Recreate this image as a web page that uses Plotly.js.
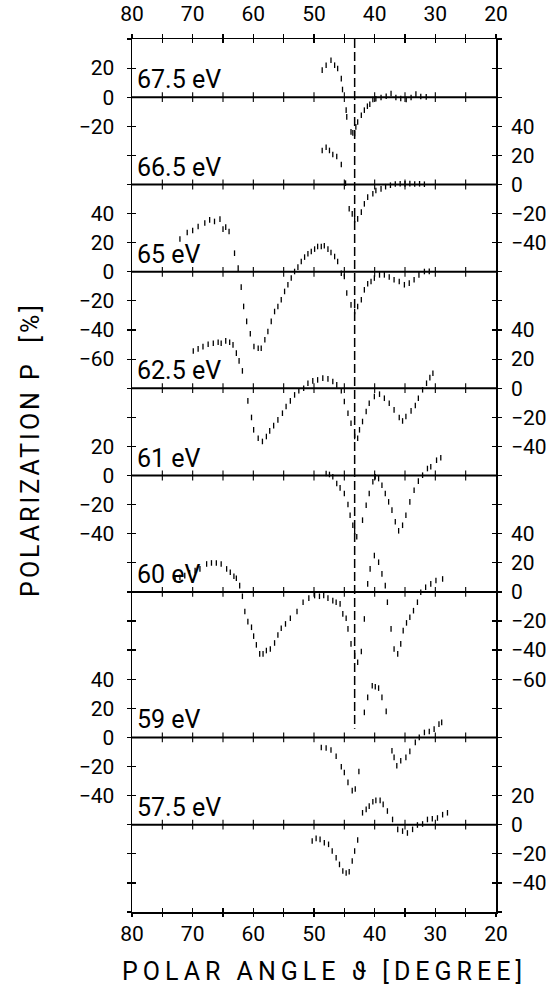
<!DOCTYPE html>
<html><head><meta charset="utf-8">
<script src="https://cdn.plot.ly/plotly-3.0.1.min.js"></script>
<style>
html,body{margin:0;padding:0;background:#fff}
#chart{width:559px;height:987px}
</style></head><body><div id="chart"></div>
<script>
// ---- panels (stacked, each with its own zero line) ----
const panelNames   = ['67.5 eV','66.5 eV','65 eV','62.5 eV','61 eV','60 eV','59 eV','57.5 eV'];
const panelOffsets = [560, 500, 440, 360, 300, 220, 120, 60];
const panelLeftLabels  = [[20,0,-20],[],[40,20,0,-20,-40,-60],[],[20,0,-20,-40],[],[40,20,0,-20,-40],[]];
const panelRightLabels = [[],[40,20,0,-20,-40],[],[40,20,0,-20,-40],[],[40,20,0,-20,-40,-60],[],[20,0,-20,-40]];

// ---- x axis ----
const xRange = [80, 20];
const xTickVals = [80,75,70,65,60,55,50,45,40,35,30,25,20];
const xTickText = ['80','','70','','60','','50','','40','','30','','20'];
const yTop = 600;
const referenceAngle = 43.3;
const xTitle = 'POLAR ANGLE \u03D1 [DEGREE]';
const yTitle = 'POLARIZATION P  [%]';

// ---- data: polar angle (deg) and polarization P (%) ----
const x675 = [48.65,48.0,47.2,46.6,46.1,45.5,45.3,44.7,44.6,43.9,43.6,43.3,43.1,42.8,42.2,41.7,41.2,40.8,40.3,39.8,38.95,38.1,37.3,36.5,35.7,34.8,34.0,33.2,32.4,31.5];
const p675 = [18.6,22,25.4,22,19.7,12.8,5.3,-8.9,-13.5,-23.8,-24.5,-25,-20.4,-17,-12.4,-8.9,-6.2,-4.8,-1.6,-1.1,-0.2,0.7,2.5,-0.2,-0.9,-1.6,-0.2,2.1,0.5,0.2];

const x665 = [48.65,48.0,47.45,46.9,46.25,45.5,44.8,44.2,43.7,43.3,42.8,42.2,41.7,41.15,40.3,39.8,38.95,38.2,37.4,36.6,35.8,35.0,34.2,33.4,32.6,31.8];
const p665 = [23.4,25.6,23.4,20.6,19.2,13.7,0.9,-16.7,-20.2,-24.3,-23.6,-19,-13.3,-8.7,-6.4,-4.1,-3.0,-1.5,-0.5,0.3,0.5,0.4,0.6,0.3,0.5,0.2];

const x65 = [72.1,70.9,70.0,69.1,68.0,67.2,66.4,65.5,65.0,64.55,64.0,63.1,62.5,62.0,61.6,61.1,60.5,59.9,59.2,58.7,58.1,57.6,57.05,56.5,55.95,55.4,54.85,54.3,53.75,53.2,52.65,52.1,51.55,51.0,50.45,49.9,49.4,48.8,48.3,47.7,47.2,46.6,46.1,45.5,45.0,44.6,43.9,43.3,42.8,42.2,41.7,41.15,40.6,40.05,39.2,38.4,37.6,36.8,35.95,35.1,34.3,33.5,32.7,31.8,31.0];
const p65 = [22.5,27,28.4,31.1,33.5,35.7,34.6,36.2,29.3,30.7,27.7,12.8,2.5,-10.5,-23.8,-34.1,-42.6,-51.3,-52.5,-52.5,-46.7,-41,-34.1,-27.3,-23.8,-19.2,-13.5,-8.9,-4.3,0.2,3.2,7.1,10.1,12.4,14,15.6,17.4,17.4,17.9,15.6,13.3,10.5,7.1,-1,-3.2,-14.6,-22.7,-27.3,-23.8,-19.2,-12.4,-8.2,-6.7,-4.3,-2.1,-2.1,-3.6,-5.5,-6.7,-8.9,-7.8,-5.5,-2.1,0.2,0.3];

const x625 = [69.9,69.1,68.3,67.45,66.6,65.8,65.3,64.55,63.9,63.35,62.8,62.35,61.8,60.9,60.3,59.95,59.2,58.5,57.85,57.3,56.65,55.95,55.2,54.6,53.9,53.2,52.5,51.7,51.0,50.2,49.4,48.55,47.7,46.9,46.25,45.5,45.0,44.4,43.9,43.3,42.8,42.5,42.0,41.4,40.9,40.05,39.2,38.4,37.6,36.8,35.95,35.4,34.85,34.0,33.3,32.8,32.1,31.45,30.9,30.4];
const p625 = [25.6,27,28.6,30.2,30.9,31.6,30.9,32.5,31.6,29.8,24.1,18.8,11.9,-8.7,-20.1,-28.6,-34.4,-36.6,-33.2,-29.3,-25.7,-21.8,-17.2,-12.6,-8.7,-4.6,-1.8,0,3.4,5.0,5.7,6.9,6.4,4.6,2.3,-1.8,-9.1,-17.2,-24.1,-33.2,-34.4,-28.6,-22.9,-16,-10.3,-5.7,-4.1,-6.9,-10.3,-14.9,-20.1,-22.5,-19.5,-15.6,-11.9,-6.9,-1.1,3.4,7.3,10.3];

const x61 = [48.0,47.45,46.9,46.25,45.7,45.0,44.4,44.05,43.6,43.3,42.95,42.0,41.4,40.9,40.3,39.9,39.35,38.8,38.25,37.7,37.15,36.6,36.05,35.4,34.85,34.2,33.5,32.8,32.1,31.3,30.75,29.8,29.1];
const p61 = [1.4,0.7,-0.9,-5.5,-8.5,-12.4,-19.9,-27.3,-34.2,-38.7,-42.1,-30.7,-20.4,-12.4,-4.3,-0.9,-2.1,-6.7,-12.4,-18.1,-23.8,-31.8,-38,-34.2,-27.3,-18.1,-10.1,-3.9,0.2,4.8,6.0,10.5,12.2];

const x60 = [72.9,72.1,71.3,70.5,69.6,68.8,67.7,66.9,66.1,65.3,64.4,63.8,63.2,62.8,62.25,61.8,61.4,60.9,60.3,59.95,59.5,58.95,58.4,57.85,57.2,56.5,55.95,55.4,54.7,53.9,52.8,51.8,50.85,49.9,49.1,48.4,47.7,46.9,46.35,45.7,45.25,44.7,44.4,43.9,43.3,42.8,42.2,41.7,41.15,40.75,40.05,39.35,38.8,38.25,37.9,37.3,36.8,36.2,35.7,35.3,34.75,34.2,33.6,32.95,32.4,31.6,30.75,29.9,28.8];
const p60 = [8.9,10.1,11.2,13.1,14.6,15.8,19.2,19.9,19.9,19.2,15.8,13.5,10.8,9.4,4.3,-3.0,-13.5,-20.4,-24.3,-30.4,-36.4,-42.6,-42.6,-40.3,-39.2,-35.1,-29.6,-25,-22,-18.1,-13.5,-7.1,-4.3,-2.5,-3,-2.5,-4.3,-6,-7.1,-8.2,-15.1,-18.1,-25.4,-35.7,-43.8,-48.3,-41,-18.6,5.5,15.8,25,20.4,12.4,4.3,-7.1,-25.4,-39.2,-42.6,-35.7,-26.6,-21.3,-17.4,-12.9,-7.1,-0.2,3.2,5.5,7.8,8.9];

const x59 = [48.8,48.0,47.2,46.35,45.5,45.0,44.4,43.7,43.2,42.6,41.7,41.15,40.4,39.9,39.35,38.8,38.1,37.15,36.8,36.35,35.7,34.85,34.2,33.3,32.65,31.8,31.0,30.2,29.4,28.95];
const p59 = [-6.9,-7.3,-8.7,-13,-20.2,-24.1,-30.9,-36.6,-35.5,-23.4,17.2,27.5,35.5,34.8,33.9,27.5,17.9,-9.2,-13.7,-19.5,-16,-13.7,-9.6,-3.4,0,3.4,4.1,5.7,9.1,10.3];

const x575 = [50.3,49.65,49.0,48.3,47.6,47.0,46.35,45.8,45.25,44.7,44.2,43.7,43.3,42.8,42.0,41.4,40.9,40.3,39.8,39.1,38.6,37.9,37.05,36.2,35.4,34.6,33.75,32.95,32.1,31.3,30.5,29.65,28.8,28.0];
const p575 = [-11.2,-9.4,-10.1,-12.4,-13.5,-18.1,-22.7,-27.3,-31.8,-33.2,-32.3,-24.9,-18.1,-10.5,8.2,10.5,12.8,15.8,16.7,16.7,14,9.4,3.6,-3.2,-4.4,-5.7,-3.2,-0.2,0.5,3.6,4.1,4.6,6.9,8.2];

const seriesX = [x675, x665, x65, x625, x61, x60, x59, x575];
const seriesP = [p675, p665, p65, p625, p61, p60, p59, p575];

// ---- build ----
const FONT = 'Roboto, "DejaVu Sans", sans-serif';
const traces = [];

panelOffsets.forEach(off => {
  traces.push({x: xRange, y: [off, off], mode: 'lines', line: {color: '#000', width: 2},
    hoverinfo: 'skip', showlegend: false});
  const tx = xTickVals.slice(1, -1);
  traces.push({x: tx, y: tx.map(() => off), mode: 'markers',
    marker: {symbol: 'line-ns', size: 7, color: '#000', line: {color: '#000', width: 1.1}},
    hoverinfo: 'skip', showlegend: false});
});

seriesX.forEach((xs, i) => {
  traces.push({x: xs, y: seriesP[i].map(v => v + panelOffsets[i]), mode: 'markers',
    name: panelNames[i],
    marker: {symbol: 'line-ns-open', size: 4, color: '#000', line: {color: '#000', width: 1.3}},
    showlegend: false});
});

traces.push({x: [referenceAngle, referenceAngle], y: [yTop, panelOffsets[6] + 6],
  xaxis: 'x2', yaxis: 'y2', mode: 'lines',
  line: {color: '#000', width: 1.5, dash: '9px,4px'}, hoverinfo: 'skip', showlegend: false});

const yTickVals = [];
for (let v = 0; v <= yTop; v += 20) yTickVals.push(v);
function labelsFor(list) {
  return yTickVals.map(v => {
    for (let i = 0; i < panelOffsets.length; i++) {
      const lab = list[i].find(l => l + panelOffsets[i] === v);
      if (lab !== undefined) return String(lab).replace('-', '\u2212');
    }
    return '';
  });
}
const leftText = labelsFor(panelLeftLabels);
const rightText = labelsFor(panelRightLabels);

const annotations = panelNames.map((n, i) => ({
  text: n, x: xRange[0], y: panelOffsets[i], xref: 'x', yref: 'y',
  xanchor: 'left', yanchor: 'bottom', xshift: 3, yshift: 1, showarrow: false,
  font: {family: FONT, size: 25, color: '#000'}
}));
annotations.push({text: xTitle, xref: 'paper', yref: 'paper', x: 0.53, y: -0.068,
  xanchor: 'center', yanchor: 'middle', showarrow: false,
  font: {family: FONT, size: 25, color: '#000'}});
annotations.push({text: yTitle, xref: 'paper', yref: 'paper', x: -0.28, y: 0.53,
  xanchor: 'center', yanchor: 'middle', textangle: -90, showarrow: false,
  font: {family: FONT, size: 25, color: '#000'}});

const tickFont = {family: FONT, size: 21, color: '#000'};
const layout = {
  width: 559, height: 987,
  margin: {l: 132, r: 63, t: 39, b: 75},
  paper_bgcolor: '#fff', plot_bgcolor: '#fff',
  showlegend: false,
  font: {family: FONT, color: '#000'},
  xaxis: {range: xRange, side: 'bottom', showline: true, linecolor: '#000', linewidth: 1.5,
    mirror: 'allticks', ticks: 'inside', ticklen: 4, tickwidth: 1.2, tickcolor: '#000',
    tickvals: xTickVals, ticktext: xTickText, tickfont: tickFont, ticklabelstandoff: 2,
    showgrid: false, zeroline: false},
  xaxis2: {range: xRange, overlaying: 'x', side: 'top', anchor: 'y', showline: false,
    mirror: 'allticks', ticks: 'outside', ticklen: 4, tickwidth: 1.2, tickcolor: '#000',
    tickvals: xTickVals, ticktext: xTickText, tickfont: tickFont, ticklabelstandoff: 5,
    showgrid: false, zeroline: false},
  yaxis: {range: [0, yTop], side: 'left', showline: true, linecolor: '#000', linewidth: 1.5,
    mirror: 'allticks', ticks: 'outside', ticklen: 4, tickwidth: 1.2, tickcolor: '#000',
    tickvals: yTickVals, ticktext: leftText, tickfont: tickFont, ticklabelstandoff: 8,
    showgrid: false, zeroline: false},
  yaxis2: {range: [0, yTop], overlaying: 'y', side: 'right', anchor: 'x', showline: false,
    mirror: 'allticks', ticks: 'inside', ticklen: 4, tickwidth: 1.2, tickcolor: '#000',
    tickvals: yTickVals, ticktext: rightText, tickfont: tickFont, ticklabelstandoff: 14,
    showgrid: false, zeroline: false},
  annotations: annotations
};

Plotly.newPlot('chart', traces, layout, {displayModeBar: false, staticPlot: true}).then(gd => {
  gd.querySelectorAll('g.annotation text').forEach(t => {
    if (t.textContent === xTitle) t.style.letterSpacing = '5px';
    if (t.textContent === yTitle) t.style.letterSpacing = '3px';
  });
});
</script></body></html>
